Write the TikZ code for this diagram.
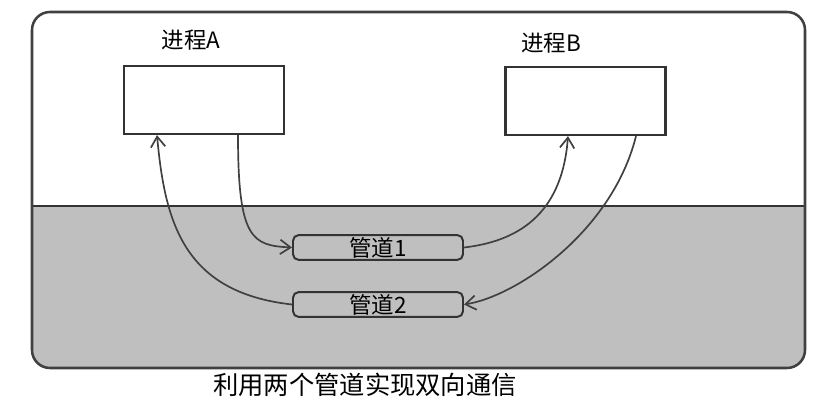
\documentclass[tikz,border=0pt]{standalone}
\usepackage{fontspec}
\newfontfamily\cjk{Noto Sans CJK SC}
\usetikzlibrary{arrows.meta}

\begin{document}
\begin{tikzpicture}[>={Straight Barb[length=2.6mm,width=3.6mm]},
    proc/.style={draw=black!80, line width=1.6pt, fill=white, minimum width=4cm, minimum height=1.7cm},
    pipe/.style={draw=black!80, line width=1.4pt, rounded corners=4pt, minimum width=4.25cm, minimum height=0.62cm, font=\cjk\fontsize{16}{16}\selectfont, inner sep=0pt},
    flow/.style={->, draw=black!75, line width=1.2pt},
    lbl/.style={font=\cjk\fontsize{16}{16}\selectfont}]
    \useasboundingbox (0,0) rectangle (20.4,10.275);

    % 背景框
    \begin{scope}
        \clip[rounded corners=0.45cm] (0.8,1.075) rectangle (20.125,9.975);
        \fill[black!25] (0.8,1.075) rectangle (20.125,5.125);
    \end{scope}
    \draw[black!80, line width=1.2pt] (0.8,5.125) -- (20.125,5.125);
    \draw[black!75, line width=1.8pt, rounded corners=0.45cm] (0.8,1.075) rectangle (20.125,9.975);

    % 进程
    \node[proc] (procA) at (5.1,7.775) {};
    \node[proc] (procB) at (14.64,7.75) {};
    \node[lbl] (labA) at (4.78,9.275) {进程A};
    \node[lbl] (labB) at (13.78,9.2) {进程B};

    % 管道
    \node[pipe] (pipe1) at (9.45,4.0875) {管道1};
    \node[pipe] (pipe2) at (9.45,2.6625) {管道2};

    % 数据流向
    \draw[flow] ([xshift=0.85cm]procA.south) .. controls +(0,-2.6) and +(-1,0.05) .. (pipe1.west);
    \draw[flow] (pipe1.east) .. controls +(1.3,0.15) and +(-0.15,-2.0) .. ([xshift=-0.44cm]procB.south);
    \draw[flow] ([xshift=1.26cm]procB.south) .. controls +(-0.6,-2.4) and +(1.3,0.2) .. (pipe2.east);
    \draw[flow] (pipe2.west) .. controls +(-2.7,0.3) and +(0.2,-2.2) .. ([xshift=-1.175cm]procA.south);

    % 标题
    \node[font=\cjk\fontsize{18}{18}\selectfont] (caption) at (9.125,0.65) {利用两个管道实现双向通信};
\end{tikzpicture}
\end{document}
